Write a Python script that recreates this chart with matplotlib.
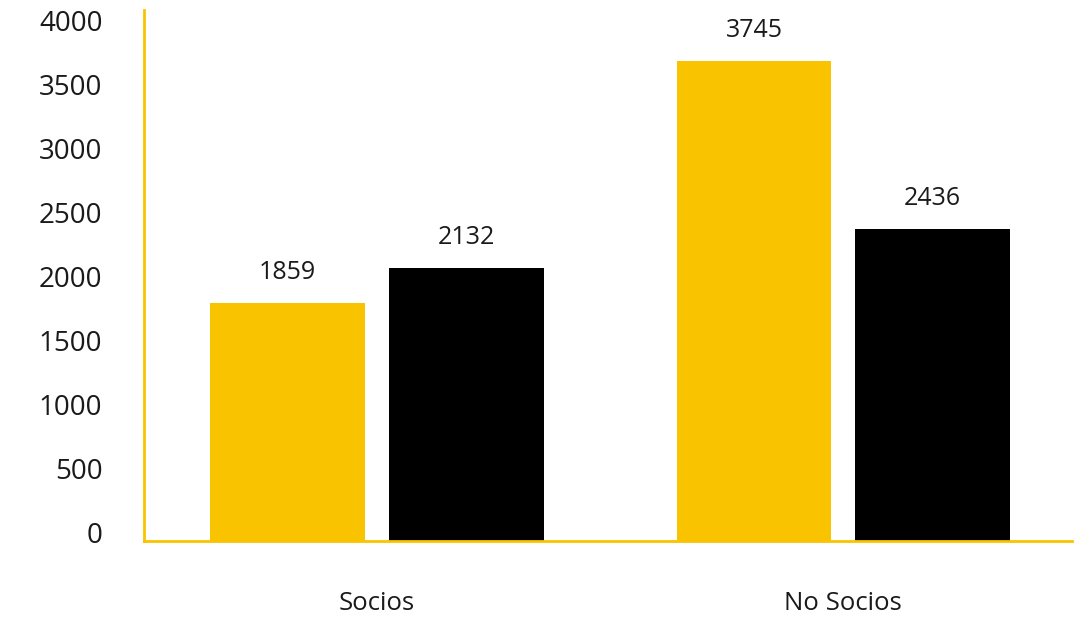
import matplotlib.pyplot as plt
import matplotlib.transforms as mtransforms
import numpy as np

categories = ['Socios', 'No Socios']
serie_amarilla = [1859, 3745]
serie_negra = [2132, 2436]
yticks = [0, 500, 1000, 1500, 2000, 2500, 3000, 3500, 4000]

amarillo = '#F9C300'
plt.rcParams['font.family'] = ['Open Sans', 'DejaVu Sans']

fig = plt.figure(figsize=(10.75, 6.18), dpi=100)
ax = fig.add_axes([0.134, 0.1246, 0.863, 0.8594])

x = np.arange(len(categories))
w = 0.332
off = 0.1917
b1 = ax.bar(x - off, serie_amarilla, w, color=amarillo)
b2 = ax.bar(x + off, serie_negra, w, color='black')

for bars in (b1, b2):
    for rect in bars:
        h = rect.get_height()
        ax.annotate(str(int(h)), (rect.get_x() + rect.get_width() / 2, h),
                    xytext=(0, 13), textcoords='offset points',
                    ha='center', va='bottom', fontsize=18, color='#1a1a1a')

ax.set_xlim(-0.5, 1.49)
ax.set_ylim(0, 4148)
ax.set_yticks(yticks)
ax.set_xticks(x)
ax.set_xticklabels(categories)
ax.tick_params(axis='y', length=0, pad=30, labelsize=20, labelcolor='#1a1a1a')
ax.tick_params(axis='x', length=0, pad=36, labelsize=18.5, labelcolor='#1a1a1a')

for s in ['top', 'right']:
    ax.spines[s].set_visible(False)
for s in ['left', 'bottom']:
    ax.spines[s].set_color(amarillo)
    ax.spines[s].set_linewidth(2)

# labels sit a little above their tick positions in the original
shift = mtransforms.ScaledTranslation(0, 8 / 100, fig.dpi_scale_trans)
for lab in ax.get_yticklabels():
    lab.set_transform(lab.get_transform() + shift)

fig.savefig('out.png', dpi=100)
